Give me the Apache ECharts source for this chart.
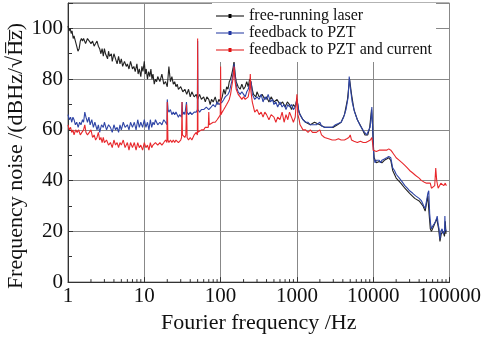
<!DOCTYPE html>
<html><head><meta charset="utf-8">
<script src="https://cdn.jsdelivr.net/npm/echarts@6/dist/echarts.min.js"></script>
<style>html,body{margin:0;padding:0;background:#fff}#c{width:484px;height:339px}</style>
</head><body><div id="c"></div>
<script>
const seriesNames = ['free-running laser', 'feedback to PZT', 'feedback to PZT and current'];
const xTickLabels = ['1', '10', '100', '1000', '10000', '100000'];
const yTickLabels = [0, 20, 40, 60, 80, 100];

const freeRunning = [[1,101],[1.03,99],[1.07,100],[1.1,98],[1.13,99],[1.17,96],[1.2,97],[1.25,95],[1.3,93],[1.35,91],[1.4,92],[1.45,95],[1.5,96],[1.55,95],[1.6,96],[1.7,94],[1.75,95],[1.8,96],[1.9,95],[2.0,94],[2.1,95],[2.2,93],[2.3,94],[2.4,95],[2.5,93],[2.6,92],[2.7,90],[2.8,92],[2.9,89],[3.0,92],[3.1,90],[3.3,88],[3.4,91],[3.5,89],[3.7,90],[3.8,87],[4.0,90],[4.2,88],[4.4,86],[4.6,89],[4.8,86],[5.0,88],[5.2,85],[5.5,87],[5.8,85],[6.0,86],[6.3,84],[6.6,87],[7.0,84],[7.3,85],[7.6,83],[8.0,86],[8.3,82],[8.6,84],[9.0,81],[9.3,85],[9.6,83],[10,87],[10.3,82],[10.6,84],[11,80],[11.4,83],[11.8,81],[12.2,84],[12.6,80],[13,82],[13.5,78],[14,80],[14.5,79],[15,81],[16,79],[17,82],[17.5,80],[18,78],[19,79],[20,77],[21,85],[22,79],[23,81],[24,78],[25,79],[26,77],[27,78],[28,76],[30,77],[32,75],[34,76],[36,74],[38,76],[40,73],[42,75],[45,73],[48,74],[50,72],[53,74],[56,72],[60,73],[63,71],[66,73],[70,72],[73,70],[76,72],[80,71],[85,73],[90,70],[95,72],[100,71],[105,73],[110,76],[115,74],[120,77],[125,76],[130,79],[135,80],[140,82],[145,84],[150,87],[155,82],[160,79],[170,77],[180,76],[190,78],[200,76],[210,77],[220,79],[230,77],[240,80],[250,79],[260,76],[270,74],[290,73],[300,75],[320,73],[350,74],[380,72],[400,73],[430,71],[460,73],[500,71],[550,72],[600,70],[650,71],[700,69],[750,71],[800,70],[850,68],[900,70],[950,69],[1000,72],[1050,68],[1100,66],[1200,64],[1300,63],[1500,62],[1700,63],[2000,62],[2300,61],[2600,61],[3000,61],[3400,62],[3800,63],[4200,66],[4600,72],[4900,80],[5200,74],[5600,68],[6200,64],[7000,61],[7800,58],[8500,58],[9000,61],[9500,68],[9800,62],[10000,55],[10300,49],[11000,47],[12000,47.5],[13000,47],[14000,48],[15000,48.5],[16000,49],[17000,48],[18000,44],[20000,41],[23000,39],[26000,37],[30000,35],[35000,33],[40000,32],[45000,30],[48000,28],[50000,31],[52000,34],[54000,27],[56000,21],[58000,20],[62000,22],[68000,25],[72000,21],[75000,16],[78000,19],[82000,20],[86000,18],[88000,24],[90000,19]];

const feedbackPZT = [[1,66],[1.04,64],[1.08,65],[1.12,63],[1.16,65],[1.2,64],[1.25,62],[1.3,63],[1.36,61],[1.42,63],[1.48,62],[1.55,64],[1.6,63],[1.66,67],[1.72,65],[1.8,63],[1.88,65],[1.95,62],[2.05,64],[2.15,61],[2.25,63],[2.4,60],[2.5,62],[2.6,59],[2.75,62],[2.9,61],[3.0,63],[3.2,60],[3.4,62],[3.6,61],[3.8,59],[4.0,62],[4.2,60],[4.4,61],[4.6,59],[4.8,62],[5.0,60],[5.3,63],[5.6,61],[6.0,62],[6.3,60],[6.6,63],[7.0,61],[7.4,63],[7.8,60],[8.2,64],[8.6,61],[9.0,63],[9.5,61],[10,64],[10.5,61],[11,63],[11.5,60],[12,64],[12.5,61],[13,63],[13.5,62],[14,64],[15,62],[16,63],[17,62],[18,64],[19,63],[19.8,62],[20,72],[20.5,68],[21,67],[22,68],[23,66],[24,67],[25,66],[26,67],[27,66],[28,65],[29,66],[30,66],[30.8,65],[31.3,71],[31.8,66],[33,67],[34,66],[35,66],[35.7,71],[36.3,67],[38,66],[40,67],[42,66],[45,67],[48,67],[49.6,68],[50,95],[50.5,68],[53,67],[56,68],[60,68],[65,69],[70,68],[75,69],[80,70],[85,69],[90,71],[95,70],[100,70],[105,71],[110,72],[115,73],[120,73],[125,74],[130,75],[135,77],[140,79],[145,82],[150,86],[155,81],[160,78],[165,76],[170,75],[180,74],[190,75],[200,74],[210,73],[220,75],[230,76],[240,78],[250,79],[255,77],[260,74],[270,73],[280,72],[300,73],[320,72],[340,74],[360,71],[380,73],[400,72],[420,74],[450,71],[480,72],[500,70],[530,71],[560,69],[600,71],[640,69],[680,70],[720,68],[760,70],[800,69],[850,70],[900,68],[950,69],[1000,72],[1030,70],[1060,67],[1100,66],[1150,65],[1200,64],[1300,63],[1400,63],[1500,62],[1600,62],[1800,62],[2000,63],[2100,61.5],[2300,61],[2600,61],[2900,61],[3200,62],[3500,62.5],[3800,63],[4100,65],[4400,68],[4700,73],[4850,81],[5000,77],[5300,71],[5700,67],[6200,64],[6800,61.5],[7500,59.5],[8200,58],[8700,58.5],[9100,61],[9400,65],[9600,69],[9800,62],[10000,54],[10200,49],[10600,47],[11000,48],[11500,47.5],[12000,48],[12500,47],[13000,48],[14000,48.5],[15000,49],[16000,49.5],[17000,49],[17500,47],[18000,45],[19000,44],[20000,42.5],[22000,41],[24000,39.5],[26000,38],[28000,37],[30000,36],[33000,35],[36000,34],[40000,33],[43000,32],[46000,30],[48000,29],[50000,32],[52000,35],[53500,36],[55000,27],[56500,23],[58000,21],[60000,22],[63000,23],[66000,24],[69000,26],[71000,23],[73000,21],[75000,17],[77000,20],[80000,21],[83000,19],[86000,20],[87000,26],[88000,21],[91000,20]];

const feedbackPZTCurrent = [[1,62],[1.04,60],[1.08,61],[1.12,59],[1.16,60],[1.2,58],[1.26,60],[1.32,59],[1.38,60],[1.45,58],[1.52,59],[1.6,60],[1.66,62],[1.72,59],[1.8,58],[1.9,59],[2.0,60],[2.1,57],[2.2,58],[2.3,56],[2.4,57],[2.5,59],[2.6,56],[2.7,57],[2.8,55],[2.9,57],[3.0,55],[3.2,56],[3.4,54],[3.6,55],[3.8,53],[4.0,56],[4.2,54],[4.4,55],[4.6,53],[4.8,55],[5.0,54],[5.3,56],[5.6,53],[6.0,55],[6.3,52],[6.6,55],[7.0,53],[7.4,55],[7.8,52],[8.2,55],[8.6,53],[9.0,54],[9.5,52],[10,55],[10.5,53],[11,54],[11.5,52],[12,55],[12.5,53],[13,54],[14,55],[15,54],[16,55],[17,54],[18,55],[19,56],[19.8,55],[20,71],[20.4,56],[21,55],[22,56],[23,55],[24,56],[25,55],[26,56],[28,55],[30,56],[30.8,57],[31.2,71],[31.6,58],[33,58],[34,57],[35,58],[35.8,70],[36.4,57],[38,56],[40,57],[42,56],[45,58],[48,59],[49.6,58],[50,96],[50.5,59],[53,59],[56,60],[60,60],[63,61],[66,61],[69,61],[70,67],[71,62],[75,62],[80,63],[85,63],[90,64],[95,65],[99,66],[100,85],[101,66],[105,67],[110,68],[115,69],[120,70],[125,71],[130,72],[135,74],[140,77],[145,80],[150,85],[155,79],[160,76],[165,75],[170,74],[180,73],[190,72],[200,73],[210,72],[220,72],[230,73],[240,76],[245,82],[250,75],[260,71],[270,69],[280,67],[300,68],[320,66],[340,67],[360,65],[380,67],[400,66],[430,64],[460,66],[500,65],[530,63],[560,65],[600,64],[640,67],[680,63],[720,66],[760,64],[800,67],[850,65],[900,63],[950,65],[1000,74],[1030,66],[1070,64],[1100,62],[1150,61],[1200,60],[1300,60],[1400,59],[1500,60],[1600,59],[1800,59],[2000,60],[2100,58],[2300,57],[2600,56.5],[2900,56],[3200,56],[3500,56.5],[3800,56],[4200,56],[4500,56.5],[4800,57],[5000,58],[5200,56],[5600,55.5],[6200,55],[6800,55.5],[7400,55],[8000,55],[8600,55.5],[9200,56],[9600,57],[9900,54],[10000,52],[10500,52],[11000,51.5],[12000,52],[13000,52],[14000,52],[15000,52],[16000,52.5],[17000,52],[18000,51],[19000,50],[20000,49],[22000,48],[24000,47],[26000,46],[28000,45],[30000,44],[33000,43],[36000,42],[40000,41],[43000,40],[46000,39.5],[50000,39],[53000,38.5],[56000,39],[58000,37],[61000,36.5],[64000,38],[66000,45],[68000,40],[71000,37],[74000,38],[77000,39],[80000,38.5],[84000,38],[88000,39],[91000,38]];

const FONT = 'Liberation Serif';
// minor tick positions of the log axis (2..9 x 10^k)
const minorTicks = [];
for (let k = 0; k < 5; k++) for (let m = 2; m <= 9; m++) minorTicks.push([m * Math.pow(10, k), 0]);

const legendIcon = 'path://M0,1.5H28V2.5H0Z M12.5,0H15.5V4H12.5Z';
const chart = echarts.init(document.getElementById('c'), null, {renderer: 'canvas'});
function lineSeries(name, data, color, symColor) {
  return {
    name: name, type: 'line', data: data, showSymbol: false, symbol: 'circle', symbolSize: 3,
    itemStyle: {color: symColor}, lineStyle: {color: color, width: 1.1}, animation: false, z: 2
  };
}
chart.setOption({
  animation: false,
  grid: {left: 68, right: 33, top: 3, bottom: 52, show: true, borderColor: '#666', borderWidth: 1, backgroundColor: 'transparent'},
  legend: {
    left: 212, top: 3, orient: 'vertical', padding: [5, 4, 4, 4], itemWidth: 28, itemHeight: 4, itemGap: 1,
    backgroundColor: '#fff', icon: legendIcon,
    data: seriesNames,
    textStyle: {fontFamily: FONT, fontSize: 16, color: '#111', lineHeight: 15}
  },
  xAxis: {
    type: 'log', logBase: 10, min: 1, max: 100000,
    axisLine: {show: true, lineStyle: {color: '#333', width: 1}},
    axisTick: {show: true, inside: true, length: 5, lineStyle: {color: '#333'}},
    splitLine: {show: true, lineStyle: {color: '#888', width: 1}},
    axisLabel: {fontFamily: FONT, fontSize: 21, color: '#111', margin: 4,
      formatter: function (v) { const i = Math.round(Math.log10(v)); return xTickLabels[i] || ''; }},
    name: 'Fourier frequency /Hz', nameLocation: 'middle', nameGap: 24,
    nameTextStyle: {fontFamily: FONT, fontSize: 22, color: '#111'}
  },
  yAxis: {
    type: 'value', min: 0, max: 110, interval: 20,
    axisLine: {show: true, lineStyle: {color: '#333', width: 1}},
    axisTick: {show: true, inside: true, length: 5, lineStyle: {color: '#333'}},
    minorTick: {show: true, splitNumber: 2, length: 4, lineStyle: {color: '#333'}},
    splitLine: {show: true, lineStyle: {color: '#888', width: 1}},
    axisLabel: {fontFamily: FONT, fontSize: 21, color: '#111', margin: 5, showMaxLabel: false,
      formatter: function (v) { return yTickLabels.indexOf(v) >= 0 ? String(v) : ''; }}
  },
  graphic: [{
    type: 'text', x: 16, y: 156, rotation: Math.PI / 2,
    style: {text: 'Frequency noise /(dBHz/\u221AH\u0305z\u0305)', font: '22px "Liberation Serif"', fill: '#111',
      align: 'center', verticalAlign: 'middle'}
  }],
  series: [
    lineSeries(seriesNames[0], freeRunning, '#222', '#000'),
    lineSeries(seriesNames[1], feedbackPZT, '#2f45a6', '#1f35a0'),
    lineSeries(seriesNames[2], feedbackPZTCurrent, '#e8282c', '#e01010'),
    {
      type: 'custom', data: minorTicks, silent: true, clip: false, z: 3,
      renderItem: function (params, api) {
        const p = api.coord([api.value(0), api.value(1)]);
        return {type: 'line', shape: {x1: p[0], y1: p[1], x2: p[0], y2: p[1] - 3},
          style: {stroke: '#333', lineWidth: 1}};
      }
    }
  ]
});
</script></body></html>
